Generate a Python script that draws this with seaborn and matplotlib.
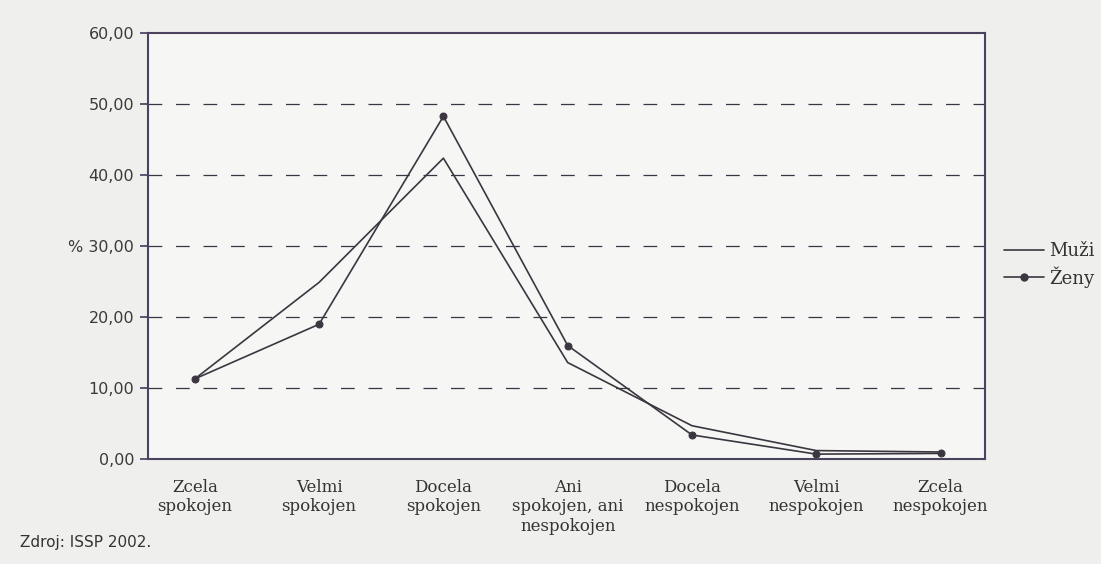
import pandas as pd
import seaborn as sns
import matplotlib
matplotlib.use('Agg')
import matplotlib.pyplot as plt
from matplotlib.lines import Line2D

# Categories (x axis) and values (%)
categories = ["Zcela\nspokojen", "Velmi\nspokojen", "Docela\nspokojen",
              "Ani\nspokojen, ani\nnespokojen", "Docela\nnespokojen",
              "Velmi\nnespokojen", "Zcela\nnespokojen"]
muzi = [11.3, 24.9, 42.4, 13.6, 4.7, 1.2, 1.0]
zeny = [11.3, 19.0, 48.3, 16.0, 3.4, 0.7, 0.8]
y_ticks = [0, 10, 20, 30, 40, 50, 60]
y_labels = ["0,00", "10,00", "20,00", "% 30,00", "40,00", "50,00", "60,00"]

df = pd.DataFrame({
    "kat": list(range(len(categories))) * 2,
    "val": muzi + zeny,
    "pohlavi": ["Muži"] * len(muzi) + ["Ženy"] * len(zeny),
})

sns.set_theme(style="white")
plt.rcParams['font.family'] = ['DejaVu Sans']

ink = "#3b3640"
frame = "#4b4260"

fig = plt.figure(figsize=(11.01, 5.64), dpi=100, facecolor="#efefed")
ax = fig.add_axes([0.134, 0.186, 0.761, 0.755])
ax.set_facecolor("#f6f6f4")

sns.lineplot(data=df[df.pohlavi == "Muži"], x="kat", y="val", color=ink,
             lw=1.2, ax=ax, legend=False)
sns.lineplot(data=df[df.pohlavi == "Ženy"], x="kat", y="val", color=ink,
             lw=1.2, marker="o", markersize=5, markeredgecolor=ink, ax=ax, legend=False)

# dashed gridlines
for t in y_ticks[1:-1]:
    ax.axhline(t, color="#3a3445", lw=0.9, ls=(0, (11, 11)), zorder=0)

ax.set_xlim(-0.38, 6.36)
ax.set_ylim(0, 60)
ax.set_yticks(y_ticks)
ax.set_yticklabels(y_labels, fontsize=11.5, color="#3a3a3a")
ax.set_xticks(range(len(categories)))
ax.set_xticklabels(categories, fontsize=12, family="DejaVu Serif", color="#333333")
ax.tick_params(axis="x", length=0, pad=14)
ax.set_xticks([i + 0.5 for i in range(len(categories) - 1)], minor=True)
ax.tick_params(axis="x", which="minor", length=5, color=frame, direction="out")
ax.tick_params(axis="y", length=6, color=frame, direction="out", left=True)
ax.set_xlabel("")
ax.set_ylabel("")
for s in ax.spines.values():
    s.set_visible(True)
    s.set_color(frame)
    s.set_linewidth(1.5)

handles = [Line2D([], [], color=ink, lw=1.2),
           Line2D([], [], color=ink, lw=1.2, marker="o", markersize=5)]
fig.legend(handles, ["Muži", "Ženy"], loc="upper left", bbox_to_anchor=(0.897, 0.6),
           frameon=False, prop={"family": "DejaVu Serif", "size": 13},
           handlelength=2.2, labelspacing=0.35, handletextpad=0.3, labelcolor="#333333")

fig.text(0.018, 0.03, "Zdroj: ISSP 2002.", fontsize=11, color="#333333")

plt.savefig("out.png", dpi=100, facecolor=fig.get_facecolor())
plt.close()
